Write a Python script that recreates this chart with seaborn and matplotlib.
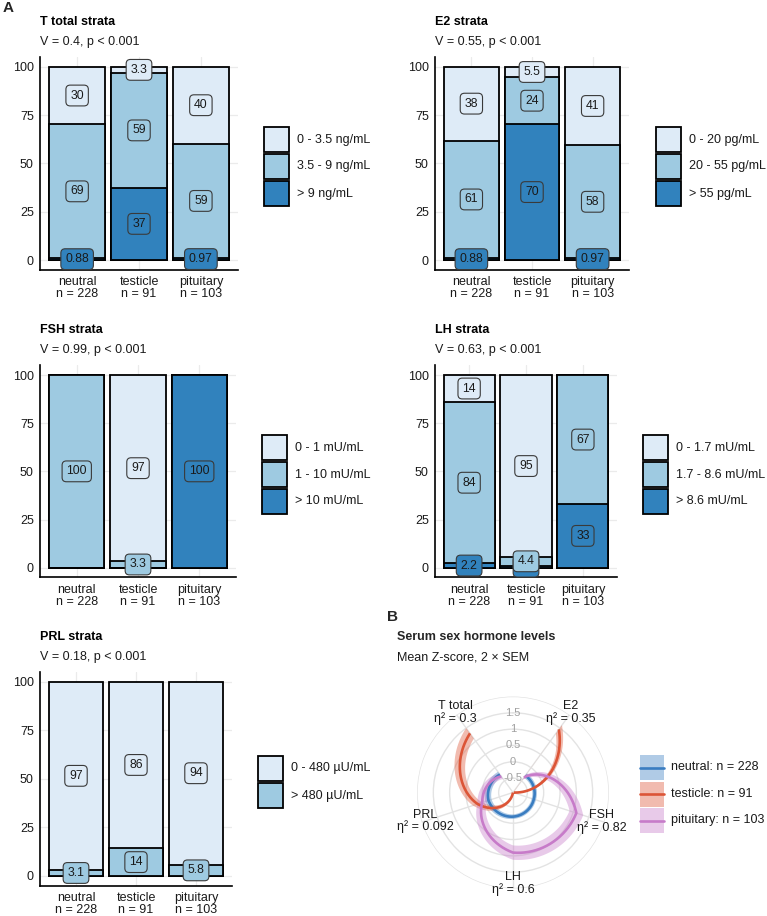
import numpy as np
import matplotlib
matplotlib.use("Agg")
import matplotlib.pyplot as plt
import seaborn as sns
from matplotlib.patches import PathPatch, Rectangle
from matplotlib.lines import Line2D
from matplotlib.path import Path

# ---------------- data ----------------
groups = ["neutral", "testicle", "pituitary"]
group_n = [228, 91, 103]

t_title = "T total strata"
t_stat = "V = 0.4, p < 0.001"
t_levels = ["0 - 3.5 ng/mL", "3.5 - 9 ng/mL", "> 9 ng/mL"]
t_low = [29.8, 3.3, 39.8]
t_mid = [69.3, 59.3, 59.2]
t_high = [0.88, 37.4, 0.97]

e2_title = "E2 strata"
e2_stat = "V = 0.55, p < 0.001"
e2_levels = ["0 - 20 pg/mL", "20 - 55 pg/mL", "> 55 pg/mL"]
e2_low = [38.2, 5.5, 40.8]
e2_mid = [60.9, 24.2, 58.3]
e2_high = [0.88, 70.3, 0.97]

fsh_title = "FSH strata"
fsh_stat = "V = 0.99, p < 0.001"
fsh_levels = ["0 - 1 mU/mL", "1 - 10 mU/mL", "> 10 mU/mL"]
fsh_low = [0.0, 96.7, 0.0]
fsh_mid = [100.0, 3.3, 0.0]
fsh_high = [0.0, 0.0, 100.0]

lh_title = "LH strata"
lh_stat = "V = 0.63, p < 0.001"
lh_levels = ["0 - 1.7 mU/mL", "1.7 - 8.6 mU/mL", "> 8.6 mU/mL"]
lh_low = [14.0, 94.5, 0.0]
lh_mid = [83.8, 4.4, 67.0]
lh_high = [2.2, 1.1, 33.0]

prl_title = "PRL strata"
prl_stat = "V = 0.18, p < 0.001"
prl_levels = ["0 - 480 \u00b5U/mL", "> 480 \u00b5U/mL"]
prl_low = [96.9, 85.7, 94.2]
prl_high = [3.1, 14.3, 5.8]

# radar (mean Z-score and 2 x SEM)
hormones = ["E2", "FSH", "LH", "PRL", "T total"]
eta2 = ["0.35", "0.82", "0.6", "0.092", "0.3"]
neutral_mean = [-0.30, -0.27, -0.20, -0.15, -0.26]
neutral_2sem = [0.08, 0.07, 0.07, 0.10, 0.10]
testicle_mean = [1.45, -1.55, -1.12, 0.20, 1.30]
testicle_2sem = [0.16, 0.08, 0.10, 0.15, 0.20]
pituitary_mean = [-0.37, 1.10, 0.90, 0.05, -0.33]
pituitary_2sem = [0.10, 0.22, 0.22, 0.16, 0.10]
radial_breaks = [-0.5, 0, 0.5, 1, 1.5]
radial_labels = ["-0.5", "0", "0.5", "1", "1.5"]

# ---------------- style ----------------
strata_colors = ["#DEEBF7", "#9ECAE1", "#3182BD"]
group_colors = ["#3A7DC1", "#DC5537", "#C77BC9"]
TXT = "#1A1A1A"

sns.set_style("white")
plt.rcParams["font.family"] = ["Liberation Sans", "DejaVu Sans"]
plt.rcParams["font.size"] = 9

W, H = 767, 916
fig = plt.figure(figsize=(W / 100, H / 100), dpi=100)


def fx(x):
    return x / W


def fy(y):
    return 1 - y / H


def fmt(v):
    if v >= 10:
        return str(int(np.floor(v + 0.5)))
    return f"{v:.2g}"


def key_rect(x0, top, w, h, **kw):
    r = Rectangle((fx(x0), fy(top + h)), w / W, h / H, transform=fig.transFigure, **kw)
    fig.add_artist(r)


def strata_panel(left, right, top, bottom, pct_rows, level_names, title, stat,
                 title_y, legend_x, legend_y):
    ax = fig.add_axes([fx(left), fy(bottom), (right - left) / W, (bottom - top) / H])
    pct = np.array(pct_rows, dtype=float)
    nlev = len(level_names)
    cols = strata_colors[:nlev]
    for k in range(nlev):
        sns.barplot(x=groups, y=pct[k:].sum(axis=0), color=cols[k], saturation=1,
                    edgecolor="black", linewidth=1.3, width=0.9, errorbar=None,
                    ax=ax, zorder=2)
    for k in range(nlev - 1, -1, -1):
        for j in range(len(groups)):
            v = pct[k, j]
            if v <= 0:
                continue
            yc = pct[k + 1:, j].sum() + v / 2
            ax.text(j, yc, fmt(v), ha="center", va="center", fontsize=8.8, color=TXT,
                    zorder=6, clip_on=False,
                    bbox=dict(boxstyle="round,pad=0.36,rounding_size=0.35",
                              fc=cols[k], ec="#3A3A3A", lw=0.8))
    ax.set_xlim(-0.6, 2.6)
    ax.set_ylim(-5, 105)
    ax.set_yticks([0, 25, 50, 75, 100])
    ax.set_yticklabels(["0", "25", "50", "75", "100"])
    ax.set_xticks(range(len(groups)))
    ax.set_xticklabels([f"{g}\nn = {n}" for g, n in zip(groups, group_n)], linespacing=1.0)
    ax.set_xlabel("")
    ax.set_ylabel("")
    ax.grid(True, color="#EBEBEB", lw=0.9)
    ax.xaxis.grid(True)
    ax.set_axisbelow(True)
    for s in ["top", "right"]:
        ax.spines[s].set_visible(False)
    for s in ["left", "bottom"]:
        ax.spines[s].set_color("black")
        ax.spines[s].set_linewidth(1.2)
    ax.tick_params(length=2.5, width=0.9, color="#333333", labelsize=9,
                   labelcolor=TXT, pad=2)
    fig.text(fx(left), fy(title_y), title, fontweight="bold", fontsize=9,
             va="center", ha="left", color="black")
    fig.text(fx(left), fy(title_y + 20), stat, fontsize=9, va="center",
             ha="left", color=TXT)
    for i, (c, name) in enumerate(zip(cols, level_names)):
        ktop = legend_y + i * 27
        key_rect(legend_x, ktop, 25, 25, facecolor=c, edgecolor="black", linewidth=1.3)
        fig.text(fx(legend_x + 33), fy(ktop + 12.5), name, fontsize=9, va="center",
                 ha="left", color=TXT)
    return ax


strata_panel(40, 238, 57, 269.7, [t_low, t_mid, t_high], t_levels,
             t_title, t_stat, 22, 264, 127)
strata_panel(435, 629, 57, 269.7, [e2_low, e2_mid, e2_high], e2_levels,
             e2_title, e2_stat, 22, 656, 127)
strata_panel(40, 236, 365.4, 577.3, [fsh_low, fsh_mid, fsh_high], fsh_levels,
             fsh_title, fsh_stat, 330, 262, 435)
strata_panel(435, 617, 365.4, 577.3, [lh_low, lh_mid, lh_high], lh_levels,
             lh_title, lh_stat, 330, 643, 435)
strata_panel(40, 232, 672, 885.7, [prl_low, prl_high], prl_levels,
             prl_title, prl_stat, 637, 258, 756)

fig.text(fx(3), fy(8), "A", fontweight="bold", fontsize=11, va="center", ha="left")

# ---------------- radar (B) ----------------
rmin, rmax = -0.94, 2.0
cx, cy, R = 513, 792.5, 96
pax = fig.add_axes([fx(cx - R), fy(cy + R), 2 * R / W, 2 * R / H], projection="polar")
pax.set_theta_zero_location("N")
pax.set_theta_direction(-1)
theta = (np.arange(len(hormones)) + 0.5) * 2 * np.pi / len(hormones)

for mean, sem2, col in [(neutral_mean, neutral_2sem, group_colors[0]),
                        (testicle_mean, testicle_2sem, group_colors[1]),
                        (pituitary_mean, pituitary_2sem, group_colors[2])]:
    m = np.array(mean)
    s = np.array(sem2)
    lower, upper = m - s, m + s
    verts = np.concatenate([np.column_stack([theta, upper]),
                            np.column_stack([theta[::-1], lower[::-1]]),
                            [[theta[0], upper[0]]]])
    codes = [Path.MOVETO] + [Path.LINETO] * (len(verts) - 2) + [Path.CLOSEPOLY]
    band = PathPatch(Path(verts, codes, _interpolation_steps=80),
                     facecolor=col, alpha=0.4, lw=0, zorder=2)
    pax.add_patch(band)

for mean, col in [(neutral_mean, group_colors[0]),
                  (testicle_mean, group_colors[1]),
                  (pituitary_mean, group_colors[2])]:
    ln, = pax.plot(theta, mean, color=col, lw=1.9, zorder=3, solid_capstyle="butt")
    ln.get_path()._interpolation_steps = 80

pax.set_xlim(0, 2 * np.pi)
pax.set_ylim(rmin, rmax)
pax.set_yticks(radial_breaks + [rmax])
pax.set_yticklabels([])
pax.set_xticks(theta)
pax.set_xticklabels([])
pax.grid(True, color="#E3E3E3", lw=1.0)
pax.spines["polar"].set_visible(False)
pax.set_facecolor("none")

for v, lab in zip(radial_breaks, radial_labels):
    pax.text(0, v, lab, ha="center", va="center", fontsize=8, color="#A0A0A0", zorder=4)

label_r = [2.08, 1.92, 1.85, 1.88, 2.08]
for th, h, e, r in zip(theta, hormones, eta2, label_r):
    pax.text(th, r, f"{h}\n\u03b7\u00b2 = {e}", ha="center", va="center", fontsize=9,
             linespacing=1.0, color=TXT, clip_on=False)

fig.text(fx(387), fy(617), "B", fontweight="bold", fontsize=11, va="center", ha="left")
fig.text(fx(397), fy(637), "Serum sex hormone levels", fontweight="bold", fontsize=9,
         va="center", ha="left")
fig.text(fx(397), fy(658), "Mean Z-score, 2 \u00d7 SEM", fontsize=9, va="center",
         ha="left", color=TXT)

for i, (c, g, n) in enumerate(zip(group_colors, groups, group_n)):
    ktop = 755 + i * 26.5
    key_rect(640, ktop, 24, 25, facecolor=c, alpha=0.4, edgecolor="none")
    fig.add_artist(Line2D([fx(640), fx(664)], [fy(ktop + 12.5)] * 2,
                          transform=fig.transFigure, color=c, lw=1.9))
    fig.text(fx(671), fy(ktop + 12.5), f"{g}: n = {n}", fontsize=9, va="center",
             ha="left", color=TXT)

fig.savefig("out.png", dpi=100)
